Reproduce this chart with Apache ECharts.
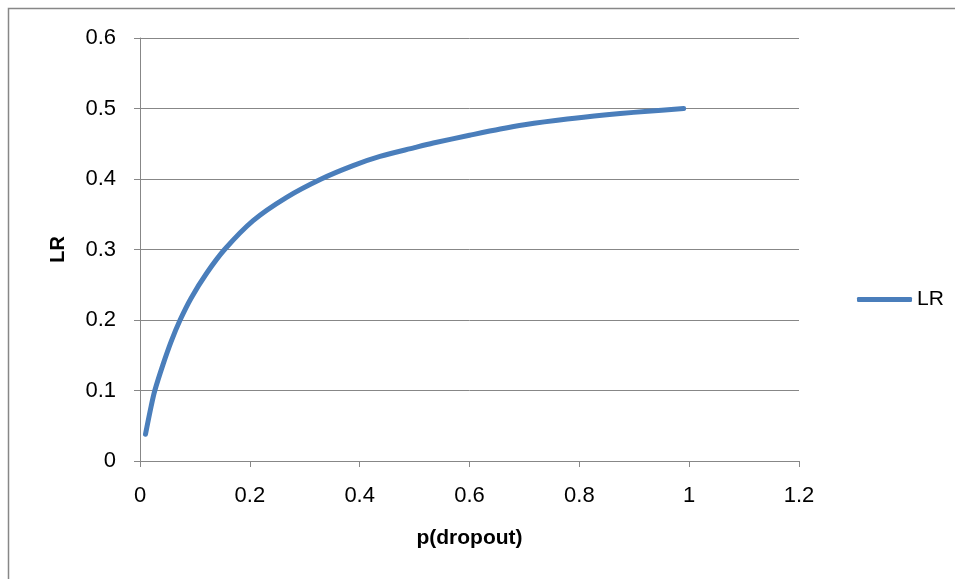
<!DOCTYPE html>
<html>
<head>
<meta charset="utf-8">
<script src="https://cdn.jsdelivr.net/npm/echarts@6/dist/echarts.min.js"></script>
<style>
html,body{margin:0;padding:0;background:#fff;}
#chart{width:955px;height:579px;}
</style>
</head>
<body>
<div id="chart"></div>
<script>
// p(dropout) values and LR
var pDropout = [0.01, 0.0204, 0.027, 0.042, 0.057, 0.073, 0.093, 0.121, 0.154, 0.206, 0.267, 0.33, 0.388, 0.437, 0.5, 0.534, 0.6, 0.656, 0.7, 0.778, 0.85, 0.899, 0.95, 0.99];
var lrValues = [0.038, 0.078, 0.100, 0.137, 0.170, 0.200, 0.231, 0.266, 0.300, 0.341, 0.374, 0.400, 0.419, 0.432, 0.4445, 0.451, 0.462, 0.471, 0.477, 0.485, 0.491, 0.4945, 0.4975, 0.500];
var seriesName = 'LR';
var xAxisTitle = 'p(dropout)';
var yAxisTitle = 'LR';

var points = pDropout.map(function (p, i) { return [p, lrValues[i]]; });

var font = 'Liberation Sans';
var grey = '#878787';
var blue = '#4a7ebb';
var chart = echarts.init(document.getElementById('chart'));
chart.setOption({
  animation: false,
  backgroundColor: '#fff',
  textStyle: { fontFamily: font },
  graphic: [{
    type: 'rect',
    shape: { x: 8.5, y: 8.5, width: 2000, height: 2000 },
    style: { fill: 'none', stroke: grey, lineWidth: 1.5 },
    silent: true,
    z: -1
  }],
  grid: { left: 140, right: 156, top: 38, bottom: 118, containLabel: false },
  legend: {
    data: [{ name: seriesName, icon: 'roundRect' }],
    left: 852,
    top: 284,
    itemWidth: 55,
    itemHeight: 5,
    itemGap: 4,
    itemStyle: { color: blue, borderWidth: 0 },
    textStyle: { fontFamily: font, fontSize: 21, color: '#000' }
  },
  xAxis: {
    type: 'value',
    min: 0, max: 1.2, interval: 0.2,
    name: xAxisTitle,
    nameLocation: 'middle',
    nameGap: 67,
    nameTextStyle: { fontFamily: font, fontSize: 21, fontWeight: 'bold', color: '#000' },
    axisLine: { show: true, lineStyle: { color: grey, width: 1 } },
    axisTick: { show: true, length: 6, lineStyle: { color: grey } },
    axisLabel: { fontFamily: font, fontSize: 22, color: '#000', margin: 24,
      formatter: function (v) { return String(Math.round(v * 10) / 10); } },
    splitLine: { show: false }
  },
  yAxis: {
    type: 'value',
    min: 0, max: 0.6, interval: 0.1,
    name: yAxisTitle,
    nameLocation: 'middle',
    nameRotate: 90,
    nameGap: 72,
    nameTextStyle: { fontFamily: font, fontSize: 20, fontWeight: 'bold', color: '#000' },
    axisLine: { show: true, lineStyle: { color: grey, width: 1 } },
    axisTick: { show: true, length: 6, lineStyle: { color: grey } },
    axisLabel: { fontFamily: font, fontSize: 22, color: '#000', margin: 24,
      formatter: function (v) { return String(Math.round(v * 10) / 10); } },
    splitLine: { show: true, lineStyle: { color: grey, width: 1 } }
  },
  series: [{
    name: seriesName,
    type: 'line',
    data: points,
    smooth: 0.3,
    symbol: 'none',
    lineStyle: { color: blue, width: 5, cap: 'round', join: 'round' },
    itemStyle: { color: blue }
  }]
});
</script>
</body>
</html>
